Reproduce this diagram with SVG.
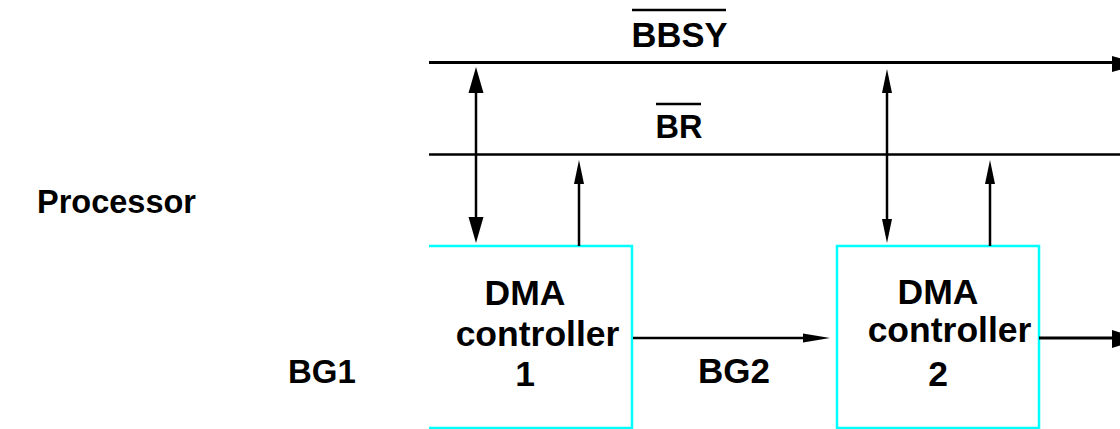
<svg xmlns="http://www.w3.org/2000/svg" width="1120" height="429" viewBox="0 0 1120 429">
<style>
.t{font-family:"Liberation Sans",Arial,sans-serif;font-weight:bold;font-size:32px;fill:#000}
.c{text-anchor:middle}
.n{font-size:35.5px}
.ln{stroke:#000;fill:none}
.box{stroke:#00FFFF;stroke-width:2.5;fill:none}
.hd{fill:#000;stroke:none}
</style>
<rect width="1120" height="429" fill="#fff"/>
<g id="labels">
<text class="t" x="37" y="213" style="font-size:32.5px">Processor</text>
<text class="t" x="288" y="383" style="font-size:33px">BG1</text>
<text class="t c" x="734" y="383" style="font-size:35px">BG2</text>
<text class="t c" x="679.5" y="47" style="font-size:34.5px">BBSY</text>
<line class="ln" x1="632" y1="10" x2="726" y2="10" stroke-width="2.5"/>
<text class="t c" x="679" y="138" style="font-size:32.5px">BR</text>
<line class="ln" x1="656" y1="104" x2="701" y2="104" stroke-width="2.5"/>
</g>
<g id="dma1">
<path class="box" d="M429,246 H632 V428 H429"/>
<text class="t c n" x="525" y="305">DMA</text>
<text class="t c n" x="537.5" y="346">controller</text>
<text class="t c n" x="525" y="386">1</text>
</g>
<g id="dma2">
<rect class="box" x="837" y="246" width="202" height="182"/>
<text class="t c n" x="938" y="304">DMA</text>
<text class="t c n" x="949.5" y="342">controller</text>
<text class="t c n" x="938" y="386">2</text>
</g>
<g id="connectors">
<line class="ln" x1="429" y1="62.5" x2="1114" y2="62.5" stroke-width="3"/>
<polygon class="hd" points="1112,56 1140,64 1112,72"/>
<line class="ln" x1="429" y1="154.5" x2="1120" y2="154.5" stroke-width="2.5"/>
<line class="ln" x1="476" y1="90" x2="476" y2="220" stroke-width="2.5"/>
<polygon class="hd" points="476,67 483.5,93 468.5,93"/>
<polygon class="hd" points="476,243 483.5,217 468.5,217"/>
<line class="ln" x1="579" y1="180" x2="579" y2="246" stroke-width="2.5"/>
<polygon class="hd" points="579,160 584,184 574,184"/>
<line class="ln" x1="887" y1="90" x2="887" y2="222" stroke-width="2.5"/>
<polygon class="hd" points="887,69 892,93 882,93"/>
<polygon class="hd" points="887,243 892,219 882,219"/>
<line class="ln" x1="990" y1="180" x2="990" y2="246" stroke-width="2.5"/>
<polygon class="hd" points="990,160 995,184 985,184"/>
<line class="ln" x1="633" y1="338" x2="808" y2="338" stroke-width="2.5"/>
<polygon class="hd" points="830,338 803,333.5 803,342.5"/>
<line class="ln" x1="1039" y1="338" x2="1114" y2="338" stroke-width="3"/>
<polygon class="hd" points="1112,330 1140,339 1112,348"/>
</g>
</svg>
